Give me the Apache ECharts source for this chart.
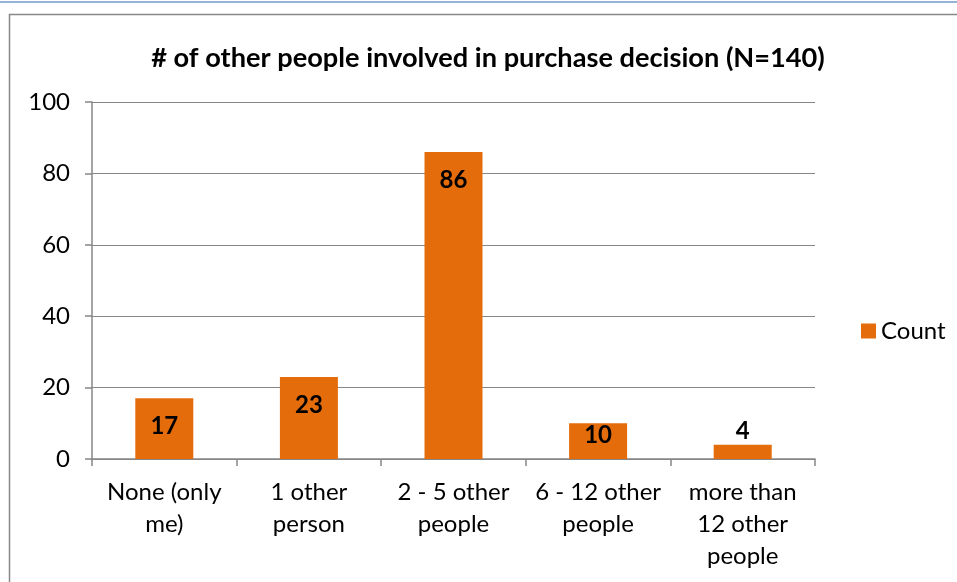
<!DOCTYPE html>
<html><head><meta charset="utf-8">
<script src="https://cdn.jsdelivr.net/npm/echarts@6/dist/echarts.min.js"></script>
<style>html,body{margin:0;padding:0;background:#fff}#c{width:957px;height:582px}</style>
</head><body><div id="c"></div>
<script>
const categories = ['None (only\nme)', '1 other\nperson', '2 - 5 other\npeople', '6 - 12 other\npeople', 'more than\n12 other\npeople'];
const counts = [17, 23, 86, 10, 4];
const seriesName = 'Count';
const titleText = '# of other people involved in purchase decision (N=140)';
const yMin = 0, yMax = 100, yStep = 20;

const chart = echarts.init(document.getElementById('c'));
const FONT = 'Lato, "Open Sans", sans-serif';
function labelFor(v) {
  if (v < 8) return { position: 'top', distance: 1 };
  if (v < 14) return { position: 'insideTop', distance: 0 };
  return {};
}
chart.setOption({
  animation: false,
  title: { text: titleText, left: 483, top: 40, textAlign: 'center',
    textStyle: { fontFamily: FONT, fontWeight: 'bold', fontSize: 27.2, color: '#000' } },
  legend: { data: [seriesName], left: 856, top: 314, orient: 'vertical', icon: 'rect', itemWidth: 15, itemHeight: 15, itemGap: 5,
    textStyle: { fontFamily: FONT, fontSize: 24, color: '#000' } },
  grid: { left: 92, right: 142, top: 102, bottom: 123, containLabel: false },
  graphic: [
    { type: 'line', shape: { x1: 0, y1: 2, x2: 957, y2: 2 }, style: { stroke: '#95B3D7', lineWidth: 2 } },
    { type: 'line', shape: { x1: 9.5, y1: 14, x2: 9.5, y2: 582 }, style: { stroke: '#888', lineWidth: 1.5 } },
    { type: 'line', shape: { x1: 9, y1: 14.5, x2: 957, y2: 14.5 }, style: { stroke: '#888', lineWidth: 1.5 } }
  ],
  xAxis: { type: 'category', data: categories,
    axisLine: { lineStyle: { color: '#868686', width: 1.5 } },
    axisTick: { show: true, length: 7, alignWithLabel: false, lineStyle: { color: '#868686', width: 1.5 } },
    axisLabel: { fontFamily: FONT, fontSize: 24, color: '#000', lineHeight: 32, margin: 17, interval: 0 } },
  yAxis: { type: 'value', min: yMin, max: yMax, interval: yStep,
    axisLine: { show: true, lineStyle: { color: '#868686', width: 1.5 } },
    axisTick: { show: true, length: 7, lineStyle: { color: '#868686', width: 1.5 } },
    splitLine: { lineStyle: { color: '#868686', width: 1.2 } },
    axisLabel: { fontFamily: FONT, fontSize: 24, color: '#000', margin: 22 } },
  series: [{ name: seriesName, type: 'bar', barWidth: 58,
    itemStyle: { color: '#E46C0A' },
    data: counts.map(v => ({ value: v, label: labelFor(v) })),
    label: { show: true, position: 'insideTop', distance: 16, fontFamily: FONT, fontWeight: 'bold', fontSize: 24, color: '#000' } }]
});
</script></body></html>
